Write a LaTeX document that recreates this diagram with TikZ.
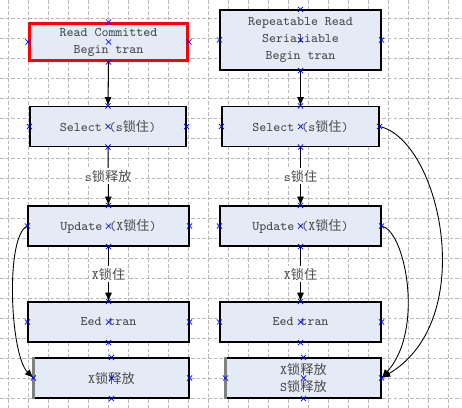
\documentclass[tikz,border=0pt]{standalone}
\usepackage{fontspec}
\newfontfamily\zhfont{Noto Sans CJK SC}
\newcommand{\zh}[1]{{\zhfont #1}}
\usetikzlibrary{shapes.misc,arrows.meta}

\definecolor{boxfill}{RGB}{228,234,246}
\definecolor{txtgray}{RGB}{75,75,75}

\begin{document}
\begin{tikzpicture}[x=0.02cm, y=-0.02cm,
  gridline/.style={black!28, line width=0.5pt, dash pattern=on 2pt off 1.2pt},
  box/.style={draw, line width=0.6pt, fill=boxfill, text=txtgray, align=center,
    minimum width=3.22cm, minimum height=0.8cm, inner sep=0pt,
    font=\fontsize{7.5}{9.6}\ttfamily},
  lbl/.style={fill=white, text=txtgray, inner sep=1pt, font=\fontsize{7.5}{9.6}\ttfamily},
  flow/.style={-{Latex[length=5pt,width=4pt]}, line width=0.6pt},
  curveflow/.style={-{Latex[length=5pt,width=4pt]}, line width=0.5pt},
  xmark/.style={cross out, draw=blue, line width=0.4pt, minimum size=0.09cm, inner sep=0pt}]
  \useasboundingbox (0,0) rectangle (462,408);

  % grid
  \foreach \i in {0,...,22}
    \draw[gridline] (8+20*\i,0) -- (8+20*\i,408);
  \foreach \j in {0,...,19}
    \draw[gridline] (0,18+20*\j) -- (462,18+20*\j);

  % left column
  \node[box, draw=red, line width=1.7pt, minimum width=3.16cm, minimum height=0.74cm] (rc) at (108.5,42) {Read Committed\\Begin tran};
  \node[box, minimum width=3.12cm] (sel1) at (108,126.5) {Select (s\zh{锁住})};
  \node[box] (upd1) at (108.5,226) {Update (X\zh{锁住})};
  \node[box] (end1) at (108.5,322) {Eed tran};
  \node[box, minimum width=3.1cm] (rel1) at (111.5,378) {X\zh{锁释放}};

  % right column
  \node[box, minimum height=1.2cm] (rr) at (300.5,40) {Repeatable Read\\Serialiable\\Begin tran};
  \node[box, minimum width=3.14cm] (sel2) at (300.5,126.5) {Select (s\zh{锁住})};
  \node[box] (upd2) at (300.5,226) {Update (X\zh{锁住})};
  \node[box] (end2) at (300.5,322) {Eed tran};
  \node[box, minimum width=3.1cm] (rel2) at (303.5,378) {X\zh{锁释放}\\S\zh{锁释放}};

  \draw[gray, line width=1.2pt] (rel1.north west) -- (rel1.south west);
  \draw[gray, line width=1.2pt] (rel2.north west) -- (rel2.south west);

  % straight flow
  \draw[flow] (rc.south) -- (sel1.north);
  \draw[flow] (sel1) -- node[lbl] {s\zh{锁释放}} (upd1);
  \draw[flow] (upd1) -- node[lbl] {X\zh{锁住}} (end1);
  \draw[flow] (rr.south) -- (sel2.north);
  \draw[flow] (sel2) -- node[lbl] {s\zh{锁住}} (upd2);
  \draw[flow] (upd2) -- node[lbl] {X\zh{锁住}} (end2);

  % curved connectors
  \draw[curveflow] (upd1.west) .. controls (5,235) and (10,355) .. (rel1.west);
  \draw[curveflow] (sel2.east) .. controls (440,140) and (480,320) .. (rel2.east);
  \draw[curveflow] (upd2.east) .. controls (405,230) and (425,330) .. (rel2.east);

  % connection points
  \foreach \n in {rc,rr,sel1,sel2,upd1,upd2,end1,end2,rel1,rel2}
    \foreach \a in {north,south,east,west,center}
      \node[xmark] (\n-\a) at (\n.\a) {};
\end{tikzpicture}
\end{document}
